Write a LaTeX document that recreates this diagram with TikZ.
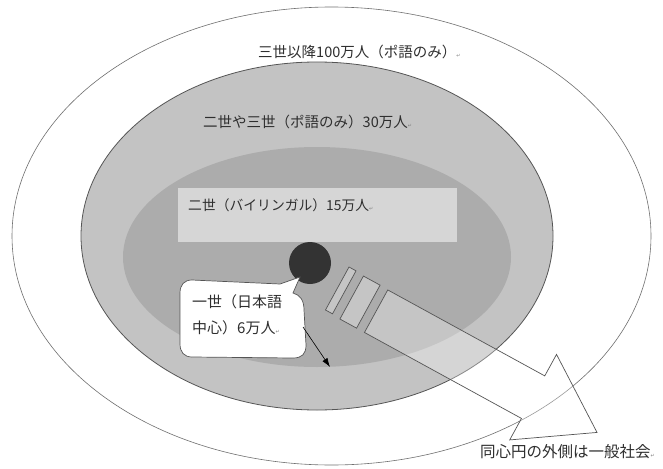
\documentclass[tikz,border=0pt]{standalone}
\usepackage{fontspec}
\setmainfont{Noto Sans CJK JP}
\newfontfamily\djv{DejaVu Sans}
\usetikzlibrary{arrows.meta}
\definecolor{midgray}{HTML}{C3C3C3}
\definecolor{innergray}{HTML}{ACACAC}
\definecolor{boxgray}{HTML}{D6D6D6}
\definecolor{dotgray}{HTML}{333333}
\definecolor{txt}{HTML}{2E2E2E}
\definecolor{edge}{HTML}{555555}
\definecolor{outeredge}{HTML}{707070}
\newcommand\retmark{{\djv\fontsize{5}{5}\selectfont\color{gray}↵}}
\begin{document}
\begin{tikzpicture}[x=1pt,y=-1pt,
  lbl/.style={anchor=west,inner sep=0pt,text=txt,font=\fontsize{14.5}{16}\selectfont},
  blk/.style={draw=edge,line width=0.7pt,fill=white,fill opacity=0.3,draw opacity=1},
  bubblebox/.style={draw=edge,line width=0.7pt,fill=white}]
\useasboundingbox (0,0) rectangle (663,468);
\fill[white] (0,0) rectangle (663,468);
% concentric ellipses
\draw[draw=outeredge,line width=0.6pt,fill=white] (331.5,236) ellipse [x radius=319.5, y radius=229];
\draw[draw=edge,line width=0.8pt,fill=midgray] (317,236) ellipse [x radius=236, y radius=174];
\fill[innergray] (317,257) ellipse [x radius=194, y radius=110];
\fill[boxgray] (178,188) rectangle (457,242);
% dot
\node[circle,fill=dotgray,minimum size=42pt,inner sep=0pt] (dot) at (310,263) {};
% speech bubble
\draw[bubblebox] (192,280) -- (280,284) -- (300,277) -- (293,293)
  .. controls (300,295) and (304,300) .. (304,310) -- (306,345)
  .. controls (306,354) and (302,358) .. (293,358) -- (192,357)
  .. controls (184,357) and (180,352) .. (180,344) -- (180,293)
  .. controls (180,285) and (184,280) .. (192,280) -- cycle;
\node[lbl,font=\fontsize{15}{26}\selectfont,align=left] (bubbletext) at (192,315) {一世（日本語\\中心）6万人\retmark};
\coordinate (arrS) at (303,327);
\coordinate (arrE) at (330,367);
\draw[-{Latex[length=9pt,width=6pt]},line width=0.6pt,black] (arrS) -- (arrE);
% block arrow with strips
\begin{scope}[shift={(349,267)},rotate=-28.7]
  \draw[blk] (0,0) rectangle (8,49);
  \draw[blk] (17,1) rectangle (36,50);
  \draw[blk] (45,1.5) -- (224,1.5) -- (224,-23) -- (297,26) -- (224,74.5) -- (224,50) -- (45,50) -- cycle;
\end{scope}
% labels
\node[lbl] (l100) at (258,52) {三世以降100万人（ポ語のみ）\retmark};
\node[lbl] (l30) at (203,122) {二世や三世（ポ語のみ）30万人\retmark};
\node[lbl,font=\fontsize{13.8}{16}\selectfont] (l15) at (188,205) {二世（バイリンガル）15万人\retmark};
\node[lbl,font=\fontsize{15.5}{17}\selectfont] (lout) at (480,452) {同心円の外側は一般社会\retmark};
\end{tikzpicture}
\end{document}
